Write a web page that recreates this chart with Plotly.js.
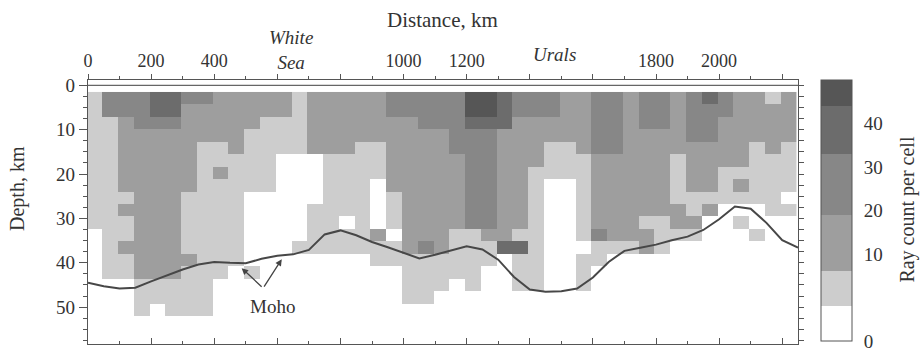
<!DOCTYPE html>
<html><head><meta charset="utf-8">
<script src="https://cdn.plot.ly/plotly-3.0.1.min.js"></script>
<style>html,body{margin:0;padding:0;background:#fff}#chart{width:921px;height:351px}</style>
</head><body><div id="chart"></div>
<script>
// Cell grid: first cell centre and cell size (distance in km, depth in km)
const cellX0 = 20, cellDX = 50;
const cellY0 = 2.9, cellDY = 2.8;

// Ray-count band of every cell: one string per 50-km column (west -> east),
// characters run from the top row down. 0 = white ... 5 = darkest
const columnBands = [
  "111111111110000000","331111111111111000","332222221211211000","333222222222222111",
  "443222222222222110","443222222222222111","322222221111121111","322211111111111111",
  "222211211111111000","222221111111110000","222111110000001000","221111110000000000",
  "221110000000000000","111110000000100000","222220000111100000","222221111111100000",
  "222221111101100000","222211111111100000","222211100002110000","332222221110110000",
  "332222222222211110","333222222222311110","333222222222211100","333332222221111000",
  "554333333331111100","554333333332110000","444222222222400000","332222222221411100",
  "332222111111111100","332211100000000000","222211100000000000","222221111111011100",
  "333332222223110000","333332222222100000","222222222222100000","333222222212200000",
  "333222222211100000","222221111221000000","333322221121000000","433322221200000000",
  "332222111000000000","222222121010000000","222211111001000000","122221111100000000",
  "222211110100000000"
];

// Representative ray count of each band, band limits and band colours
const bandRayCount = [2, 6, 14, 26, 38, 47];
const bandEdges = [0, 4, 8, 19, 33, 44, 50];
const bandColors = ['#ffffff', '#cdcdcd', '#9e9e9e', '#878787', '#6c6c6c', '#565656'];

// Colour bar scale: ray counts and where they sit on the bar (the 0-10 step is drawn twice as tall)
const cbTickCounts = [0, 10, 20, 30, 40, 50];
const cbTickPos = [0, 20, 30, 40, 50, 60];
const cbLabelCounts = [0, 10, 20, 30, 40];

// Moho depth along the profile
const mohoKm = [0,50,100,150,200,250,300,350,400,450,500,550,600,650,700,750,800,850,900,950,1000,1050,1100,1150,1200,1250,1300,1350,1400,1450,1500,1550,1600,1650,1700,1750,1800,1850,1900,1950,2000,2050,2100,2150,2200,2250];
const mohoDepth = [44.5,45.3,45.8,45.6,44.2,42.8,41.5,40.4,39.8,40.0,40.1,39.1,38.4,38.1,37.1,33.6,32.7,33.8,35.3,36.5,37.8,39.0,38.2,37.2,36.3,37.0,39.3,43.2,46.0,46.5,46.4,45.8,43.3,39.8,37.3,36.6,35.9,34.9,34.1,32.6,30.2,27.3,27.8,31.0,34.9,36.6];

// Surface line
const surfaceKm = [0, 2250];
const surfaceDepth = [0, 0];

// Distance tick labels (top axis)
const topTickVals = [0,200,400,600,800,1000,1200,1400,1600,1800,2000,2200];
const topTickText = ['0','200','400','','','1000','1200','','','1800','2000',''];

function toPos(c){
  for (let i = 0; i < cbTickCounts.length - 1; i++){
    if (c <= cbTickCounts[i+1]){
      const f = (c - cbTickCounts[i]) / (cbTickCounts[i+1] - cbTickCounts[i]);
      return cbTickPos[i] + f * (cbTickPos[i+1] - cbTickPos[i]);
    }
  }
  return cbTickPos[cbTickPos.length - 1];
}
const posMax = cbTickPos[cbTickPos.length - 1];

const nRows = columnBands[0].length;
const z = [];
for (let r = 0; r < nRows; r++){
  const row = [];
  for (let c = 0; c < columnBands.length; c++){
    row.push(toPos(bandRayCount[+columnBands[c][r]]));
  }
  z.push(row);
}
const colorscale = [];
for (let b = 0; b < bandColors.length; b++){
  colorscale.push([toPos(bandEdges[b]) / posMax, bandColors[b]]);
  colorscale.push([toPos(bandEdges[b+1]) / posMax, bandColors[b]]);
}

const serif = 'Liberation Serif, Times New Roman, serif';
const ink = '#333333';
const axisLine = '#555555';
const xRange = [0, 2250];
const yRange = [58.3, -1.2];

const traces = [
  {
    type: 'heatmap', z: z, x0: cellX0, dx: cellDX, y0: cellY0, dy: cellDY,
    zmin: 0, zmax: posMax, colorscale: colorscale, zsmooth: false, hoverinfo: 'skip',
    colorbar: {
      thickness: 31, thicknessmode: 'pixels', len: 261, lenmode: 'pixels',
      x: 1.0324, xanchor: 'left', y: 1, yanchor: 'top', xpad: 0, ypad: 0,
      outlinewidth: 1, outlinecolor: axisLine,
      tickvals: cbLabelCounts.map(toPos), ticktext: cbLabelCounts.map(String),
      ticks: 'outside', ticklen: 8, tickcolor: 'rgba(0,0,0,0)',
      ticklabeloverflow: 'allow',
      tickfont: {family: serif, size: 19, color: ink}
    }
  },
  {
    type: 'scatter', mode: 'lines', x: mohoKm, y: mohoDepth,
    line: {color: '#474747', width: 2}, hoverinfo: 'skip', showlegend: false
  },
  {
    type: 'scatter', mode: 'lines', x: surfaceKm, y: surfaceDepth, xaxis: 'x2', yaxis: 'y2',
    line: {color: '#666666', width: 1.2}, hoverinfo: 'skip', showlegend: false
  }
];

const mid = {xanchor: 'center', yanchor: 'middle', showarrow: false};
const layout = {
  width: 921, height: 351,
  margin: {l: 88, r: 123, t: 80, b: 7},
  paper_bgcolor: '#ffffff', plot_bgcolor: '#ffffff',
  showlegend: false,
  font: {family: serif, color: ink},
  xaxis: {
    range: xRange, showgrid: false, zeroline: false, showline: true,
    linecolor: axisLine, linewidth: 1.2, ticks: 'inside', ticklen: 6, tickcolor: axisLine,
    tick0: 0, dtick: 200, showticklabels: false,
    minor: {ticks: 'inside', ticklen: 3, dtick: 100, tickcolor: axisLine}
  },
  xaxis2: {
    overlaying: 'x', side: 'top', range: xRange, showgrid: false, zeroline: false,
    showline: true, linecolor: axisLine, linewidth: 1.2,
    ticks: 'outside', ticklen: 5, tickcolor: axisLine,
    tickvals: topTickVals, ticktext: topTickText,
    tickfont: {family: serif, size: 18, color: ink},
    minor: {ticks: 'outside', ticklen: 3, dtick: 100, tickcolor: axisLine}
  },
  yaxis: {
    range: yRange, showgrid: false, zeroline: false, showline: true,
    linecolor: axisLine, linewidth: 1.2, ticks: 'outside', ticklen: 8, tickcolor: axisLine,
    tick0: 0, dtick: 10, tickfont: {family: serif, size: 19, color: ink},
    minor: {ticks: 'outside', ticklen: 4, dtick: 2.5, tickcolor: axisLine}
  },
  yaxis2: {
    overlaying: 'y', side: 'right', range: yRange, showgrid: false, zeroline: false,
    showline: true, linecolor: axisLine, linewidth: 1.2, ticks: 'outside', ticklen: 5,
    tickcolor: axisLine, tick0: 0, dtick: 2.5, showticklabels: false
  },
  annotations: [
    Object.assign({text: 'Distance, km', xref: 'paper', yref: 'paper', x: 0.4986, y: 1.227,
     font: {family: serif, size: 21, color: ink}}, mid),
    Object.assign({text: '<i>White</i><br><i>Sea</i>', xref: 'x', yref: 'paper', x: 644, y: 1.114,
     font: {family: serif, size: 19, color: ink}}, mid),
    Object.assign({text: '<i>Urals</i>', xref: 'x', yref: 'paper', x: 1479, y: 1.098,
     font: {family: serif, size: 19, color: ink}}, mid),
    Object.assign({text: 'Depth, km', xref: 'paper', yref: 'paper', x: -0.0986, y: 0.591, textangle: -90,
     font: {family: serif, size: 20, color: ink}}, mid),
    Object.assign({text: 'Ray count per cell', xref: 'paper', yref: 'paper', x: 1.1549, y: 0.509, textangle: -90,
     font: {family: serif, size: 20, color: ink}}, mid),
    Object.assign({text: 'Moho', xref: 'x', yref: 'y', x: 586, y: 49.9,
     font: {family: serif, size: 19, color: ink}}, mid),
    {text: '', xref: 'x', yref: 'y', x: 487, y: 41.2, axref: 'x', ayref: 'y', ax: 555, ay: 45.7,
     showarrow: true, arrowhead: 2, arrowsize: 1, arrowwidth: 1.3, arrowcolor: '#444444'},
    {text: '', xref: 'x', yref: 'y', x: 614, y: 39.2, axref: 'x', ayref: 'y', ax: 555, ay: 45.7,
     showarrow: true, arrowhead: 2, arrowsize: 1, arrowwidth: 1.3, arrowcolor: '#444444'}
  ]
};

Plotly.newPlot('chart', traces, layout, {displayModeBar: false, staticPlot: true});
</script>
</body></html>
